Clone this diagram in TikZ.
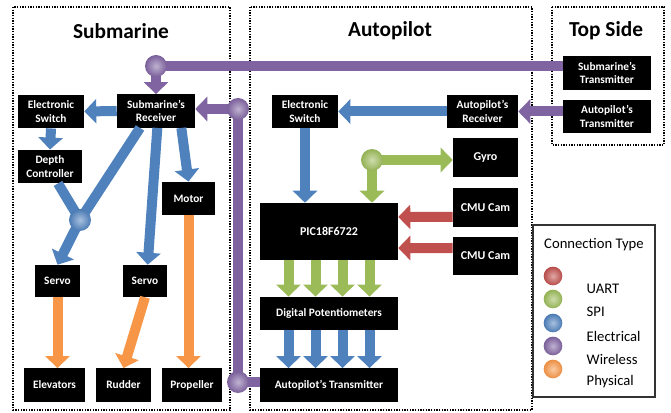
\documentclass[tikz,border=0pt]{standalone}
\usepackage{fontspec}
\setmainfont{Carlito}
\usetikzlibrary{arrows.meta}
\definecolor{uartred}{HTML}{C0504D}
\definecolor{spigreen}{HTML}{9BBB59}
\definecolor{elecblue}{HTML}{4F81BD}
\definecolor{wirelesspurple}{HTML}{8064A2}
\definecolor{physorange}{HTML}{F79646}
\tikzset{
  blk/.style={fill=black, text=white, font=\bfseries\fontsize{8.5}{10}\selectfont, align=center, inner sep=1pt, minimum height=25pt},
  bigtxt/.style={font=\bfseries\fontsize{9}{10}\selectfont},
  sectframe/.style={draw=black, densely dotted, line width=1pt},
  secttitle/.style={font=\bfseries\fontsize{16}{18}\selectfont},
  wire/.style={line width=7.5pt},
  wirearr/.style={line width=7.5pt, -{Triangle[width=18pt,length=9pt]}},
  joint/.style={circle, inner sep=0pt, minimum size=16.5pt, shading=radial, inner color=#1!50!white, outer color=#1!95!black},
  keydot/.style={circle, inner sep=0pt, minimum size=14pt, shading=radial, inner color=#1!50!white, outer color=#1!95!black},
  keytxt/.style={anchor=west, font=\fontsize{11}{13}\selectfont}
}
\begin{document}
\begin{tikzpicture}[x=0.75pt,y=-0.75pt]
\useasboundingbox (0,0) rectangle (671,413);
\draw[sectframe] (13,7) rectangle (230,410);
\draw[sectframe] (250,7) rectangle (532,410);
\draw[sectframe] (552,7) rectangle (664,145);
\node[secttitle] (subt) at (121,31) {Submarine};
\node[secttitle] (autt) at (390,31) {Autopilot};
\node[secttitle] (topt) at (606,31) {Top Side};

\node[blk, minimum width=49.5pt] (esw1) at (51,111.5) {Electronic\\Switch};
\node[blk, minimum width=58.5pt] (srx) at (156,111) {Submarine’s\\Receiver};
\node[blk, minimum width=48pt] (depth) at (50,166.5) {Depth\\Controller};
\node[blk, minimum width=39.75pt] (motor) at (188.5,198.5) {Motor};
\node[blk, minimum width=33.75pt, minimum height=24pt] (servoA) at (57.5,281) {Servo};
\node[blk, minimum width=33pt, minimum height=24pt] (servoB) at (145,281) {Servo};
\node[blk, minimum width=45.75pt] (elev) at (54.5,385) {Elevators};
\node[blk, minimum width=41.25pt] (rudder) at (123.5,385) {Rudder};
\node[blk, minimum width=45pt] (prop) at (192,385) {Propeller};

\node[blk, minimum width=49.5pt] (esw2) at (305,111.5) {Electronic\\Switch};
\node[blk, minimum width=53.25pt] (arx) at (482.5,111.5) {Autopilot’s\\Receiver};
\node[blk, bigtxt, minimum width=48.75pt, minimum height=29.25pt] (gyro) at (485.5,157.5) {Gyro};
\node[blk, bigtxt, minimum width=48.75pt, minimum height=29.25pt] (cam1) at (485.5,207.5) {CMU Cam};
\node[blk, bigtxt, minimum width=48.75pt, minimum height=28.5pt] (cam2) at (485.5,256) {CMU Cam};
\node[blk, bigtxt, minimum width=103.5pt, minimum height=42.75pt] (pic) at (329,231.5) {PIC18F6722};
\node[blk, minimum width=103.5pt] (pot) at (329,313.5) {Digital Potentiometers};
\node[blk, minimum width=103.5pt] (atx) at (329,385) {Autopilot’s Transmitter};

\node[blk, minimum width=66pt] (stx) at (607,73) {Submarine’s\\Transmitter};
\node[blk, minimum width=66pt] (atx2) at (607,116.5) {Autopilot’s\\Transmitter};

\coordinate (w1) at (156,66);
\coordinate (w2) at (238,109);
\coordinate (w3) at (238,382);
\coordinate (j1) at (80,220);
\coordinate (g1) at (372,160);

\draw[wire, wirelesspurple] (w1) -- (w1 -| stx.west);
\draw[wirearr, wirelesspurple] (w1) -- (srx.north);
\draw[wirearr, wirelesspurple] (w2) -- (w2 -| srx.east);
\draw[wire, wirelesspurple] (w2) -- (w3);
\draw[wire, wirelesspurple] (w3) -- (w3 -| atx.west);
\draw[wirearr, wirelesspurple] (atx2.west |- arx.east) -- (arx.east);

\draw[wirearr, elecblue] (srx.west) -- (esw1.east);
\draw[wirearr, elecblue] (esw1.south) -- (depth.north);
\draw[wire, elecblue] ([xshift=6pt]depth.south) -- (j1);
\draw[wire, elecblue] ([xshift=-12pt]srx.south) -- (j1);
\draw[wirearr, elecblue] (j1) -- (servoA.north);
\draw[wirearr, elecblue] ([xshift=1pt]srx.south) -- ([xshift=2pt]servoB.north);
\draw[wirearr, elecblue] ([xshift=19pt]srx.south) -- (motor.north);
\draw[wirearr, physorange] (servoA.south) -- (servoA.south |- elev.north);
\draw[wirearr, physorange] (servoB.south) -- (rudder.north);
\draw[wirearr, physorange] (motor.south) -- (motor.south |- prop.north);

\draw[wirearr, elecblue] (arx.west) -- (esw2.east);
\draw[wirearr, elecblue] (esw2.south) -- (esw2.south |- pic.north);
\draw[wirearr, spigreen] (g1) -- (g1 -| gyro.west);
\draw[wirearr, spigreen] (g1) -- (g1 |- pic.north);
\draw[wirearr, uartred] ([yshift=-7pt]cam1.west) -- ([yshift=10.9pt]pic.east);
\draw[wirearr, uartred] ([yshift=6pt]cam2.west) -- ([yshift=-12.4pt]pic.east);
\foreach \dx in {-40.5,-13.5,13.5,40.5} {
  \draw[wirearr, spigreen] ([xshift=\dx*0.75pt]pic.south) -- ([xshift=\dx*0.75pt]pot.north);
  \draw[wirearr, elecblue] ([xshift=\dx*0.75pt]pot.south) -- ([xshift=\dx*0.75pt]atx.north);
}

\node[joint=wirelesspurple] (w1c) at (w1) {};
\node[joint=wirelesspurple] (w2c) at (w2) {};
\node[joint=wirelesspurple] (w3c) at (w3) {};
\node[joint=elecblue] (j1c) at (j1) {};
\node[joint=spigreen] (g1c) at (g1) {};

\draw[black!80, line width=1pt] (533,225) rectangle (655,397);
\node[font=\fontsize{11}{13}\selectfont] (keyt) at (594,245) {Connection Type};
\node[keydot=uartred] (k1) at (553,276) {};
\node[keydot=spigreen] (k2) at (553,299) {};
\node[keydot=elecblue] (k3) at (553,323) {};
\node[keydot=wirelesspurple] (k4) at (553,346) {};
\node[keydot=physorange] (k5) at (553,369) {};
\node[keytxt] (t1) at (582,289) {UART};
\node[keytxt] (t2) at (582,312) {SPI};
\node[keytxt] (t3) at (582,336) {Electrical};
\node[keytxt] (t4) at (582,359) {Wireless};
\node[keytxt] (t5) at (582,382) {Physical};
\end{tikzpicture}
\end{document}
